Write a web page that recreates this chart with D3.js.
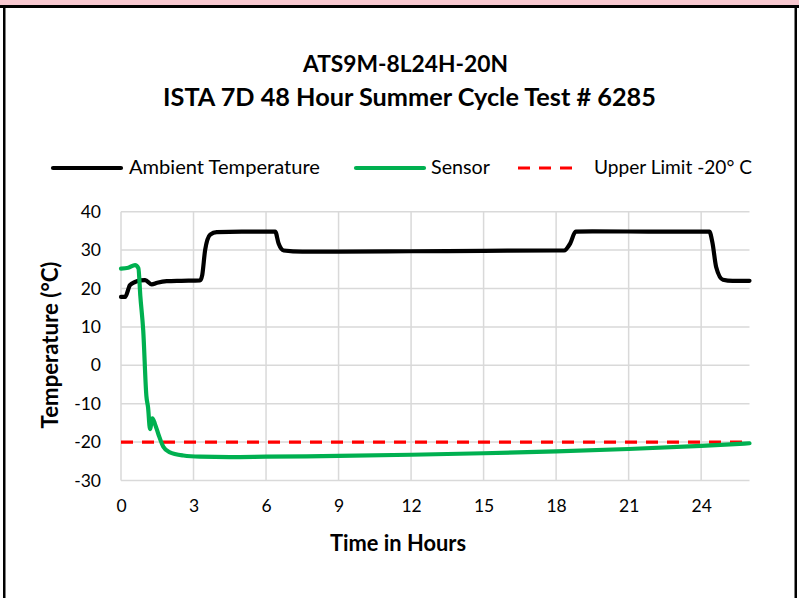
<!DOCTYPE html>
<html><head><meta charset="utf-8">
<script src="https://cdn.jsdelivr.net/npm/d3@7"></script>
<style>html,body{margin:0;padding:0;background:#fff;}svg{display:block;}</style>
</head><body>
<svg id="c" width="799" height="598"></svg>
<script>
const titleLines = ["ATS9M-8L24H-20N", "ISTA 7D 48 Hour Summer Cycle Test # 6285"];
const seriesNames = ["Ambient Temperature", "Sensor", "Upper Limit -20° C"];
const xTicks = [0, 3, 6, 9, 12, 15, 18, 21, 24];
const yTicks = [-30, -20, -10, 0, 10, 20, 30, 40];
const ambientTime = [0,0.17,0.37,0.58,0.8,1.0,1.27,1.5,1.89,2.5,3.27,3.36,3.48,3.69,3.96,5,6.38,6.52,6.73,7.5,9,12,15,18,18.33,18.58,18.81,19.5,22,24.34,24.47,24.62,24.9,25.3,26];
const ambientTemp = [17.8,17.8,20.9,21.7,22.1,22.2,21.1,21.5,21.9,22.0,22.1,23.5,30.0,34.0,34.7,34.8,34.8,31.7,29.9,29.6,29.6,29.7,29.8,29.9,29.9,31.7,34.8,34.9,34.8,34.8,31.8,25.6,22.3,22.0,22.0];
const sensorTime = [0,0.3,0.58,0.72,0.8,0.92,1.05,1.12,1.2,1.3,1.4,1.55,1.75,2.0,2.58,3.27,4.5,6,9,12,15,18,21,24,26];
const sensorTemp = [25.2,25.4,26.1,25.3,18,9,-8,-11,-16.6,-13.8,-15.2,-18,-21.2,-22.6,-23.5,-23.8,-23.9,-23.8,-23.6,-23.3,-22.9,-22.4,-21.8,-21.0,-20.3];
const limitValue = -20;
const xDomain = [0, 26];
const yDomain = [-30, 40];

const svg = d3.select("#c");
const W = 799, H = 598;
const FONT = "Lato, 'Open Sans', 'Liberation Sans', sans-serif";

// frame
svg.append("rect").attr("x",0).attr("y",0).attr("width",W).attr("height",5).attr("fill","#f8c8d0");
svg.append("rect").attr("x",0).attr("y",5).attr("width",W).attr("height",3).attr("fill","#000");
svg.append("rect").attr("x",3).attr("y",5).attr("width",2.5).attr("height",H).attr("fill","#000");
svg.append("rect").attr("x",794.5).attr("y",5).attr("width",2.5).attr("height",H).attr("fill","#000");

const x = d3.scaleLinear().domain(xDomain).range([121, 749.5]);
const y = d3.scaleLinear().domain(yDomain).range([480.5, 211.7]);

function fit(sel, w) {
  const n = sel.node();
  const fs = parseFloat(sel.attr("font-size"));
  const len = n.getComputedTextLength();
  if (len > 0) sel.attr("font-size", (fs * w / len).toFixed(2));
  return sel;
}

// gridlines
const grid = svg.append("g");
grid.selectAll("line.h").data(yTicks).join("line")
  .attr("x1", x(xDomain[0])).attr("x2", x(xDomain[1]))
  .attr("y1", d => y(d)).attr("y2", d => y(d))
  .attr("stroke", "#d9d9d9").attr("stroke-width", 1.5);
grid.selectAll("line.v").data(xTicks).join("line")
  .attr("x1", d => x(d)).attr("x2", d => x(d))
  .attr("y1", y(yDomain[0])).attr("y2", y(yDomain[1]))
  .attr("stroke", "#d9d9d9").attr("stroke-width", 1.5);

// axes labels via d3 axes
const yAxis = svg.append("g").attr("transform", `translate(${x(0)},0)`)
  .call(d3.axisLeft(y).tickValues(yTicks).tickSize(0).tickPadding(20).tickFormat(d => String(d)));
yAxis.select(".domain").remove();
yAxis.selectAll("text").attr("font-family", FONT).attr("font-size", 17.5).attr("fill", "#000");

const xAxis = svg.append("g").attr("transform", `translate(0,${y(yDomain[0])})`)
  .call(d3.axisBottom(x).tickValues(xTicks).tickSize(0).tickPadding(19).tickFormat(d => String(d)));
xAxis.select(".domain").remove();
xAxis.selectAll("text").attr("font-family", FONT).attr("font-size", 17.5).attr("fill", "#000");

// lines
const line = d3.line().x(d => x(d[0])).y(d => y(d[1])).curve(d3.curveMonotoneX);
const ambient = ambientTime.map((t, i) => [t, ambientTemp[i]]);
const sensor = sensorTime.map((t, i) => [t, sensorTemp[i]]);

svg.append("line").attr("x1", x(xDomain[0])).attr("x2", x(xDomain[1]))
  .attr("y1", y(limitValue)).attr("y2", y(limitValue))
  .attr("stroke", "#ff0000").attr("stroke-width", 3.2).attr("stroke-dasharray", "12,9");
svg.append("path").attr("d", line(ambient)).attr("fill", "none")
  .attr("stroke", "#000").attr("stroke-width", 4.2).attr("stroke-linejoin", "round").attr("stroke-linecap", "round");
svg.append("path").attr("d", line(sensor)).attr("fill", "none")
  .attr("stroke", "#00b050").attr("stroke-width", 4.2).attr("stroke-linejoin", "round").attr("stroke-linecap", "round");

// titles
const t1 = svg.append("text").attr("x", 405.5).attr("y", 72).attr("text-anchor", "middle")
  .attr("font-family", FONT).attr("font-weight", "bold").attr("font-size", 21).text(titleLines[0]);
fit(t1, 205);
const t2 = svg.append("text").attr("x", 409.5).attr("y", 106).attr("text-anchor", "middle")
  .attr("font-family", FONT).attr("font-weight", "bold").attr("font-size", 21).text(titleLines[1]);
fit(t2, 493);

// legend
const legendItems = [
  {name: seriesNames[0], color: "#000", dash: null, x1: 53, x2: 121, tx: 129, tw: 191},
  {name: seriesNames[1], color: "#00b050", dash: null, x1: 356, x2: 424, tx: 431, tw: 59},
  {name: seriesNames[2], color: "#ff0000", dash: "12,9", x1: 518, x2: 578, tx: 594, tw: 158}
];
const lg = svg.append("g");
legendItems.forEach(it => {
  const l = lg.append("line").attr("x1", it.x1).attr("x2", it.x2).attr("y1", 168).attr("y2", 168)
    .attr("stroke", it.color).attr("stroke-width", it.dash ? 3.2 : 4.2).attr("stroke-linecap", it.dash ? "butt" : "round");
  if (it.dash) l.attr("stroke-dasharray", it.dash);
  const t = lg.append("text").attr("x", it.tx).attr("y", 174).attr("font-family", FONT)
    .attr("font-size", 17).attr("fill", "#000").text(it.name);
  fit(t, it.tw);
});

// axis titles
const yt = svg.append("text").attr("transform", "translate(58,345) rotate(-90)").attr("text-anchor", "middle")
  .attr("font-family", FONT).attr("font-weight", "bold").attr("font-size", 19).text("Temperature (°C)");
fit(yt, 167);
const xt = svg.append("text").attr("x", 398).attr("y", 551).attr("text-anchor", "middle")
  .attr("font-family", FONT).attr("font-weight", "bold").attr("font-size", 18).text("Time in Hours");
fit(xt, 136);
</script>
</body></html>
